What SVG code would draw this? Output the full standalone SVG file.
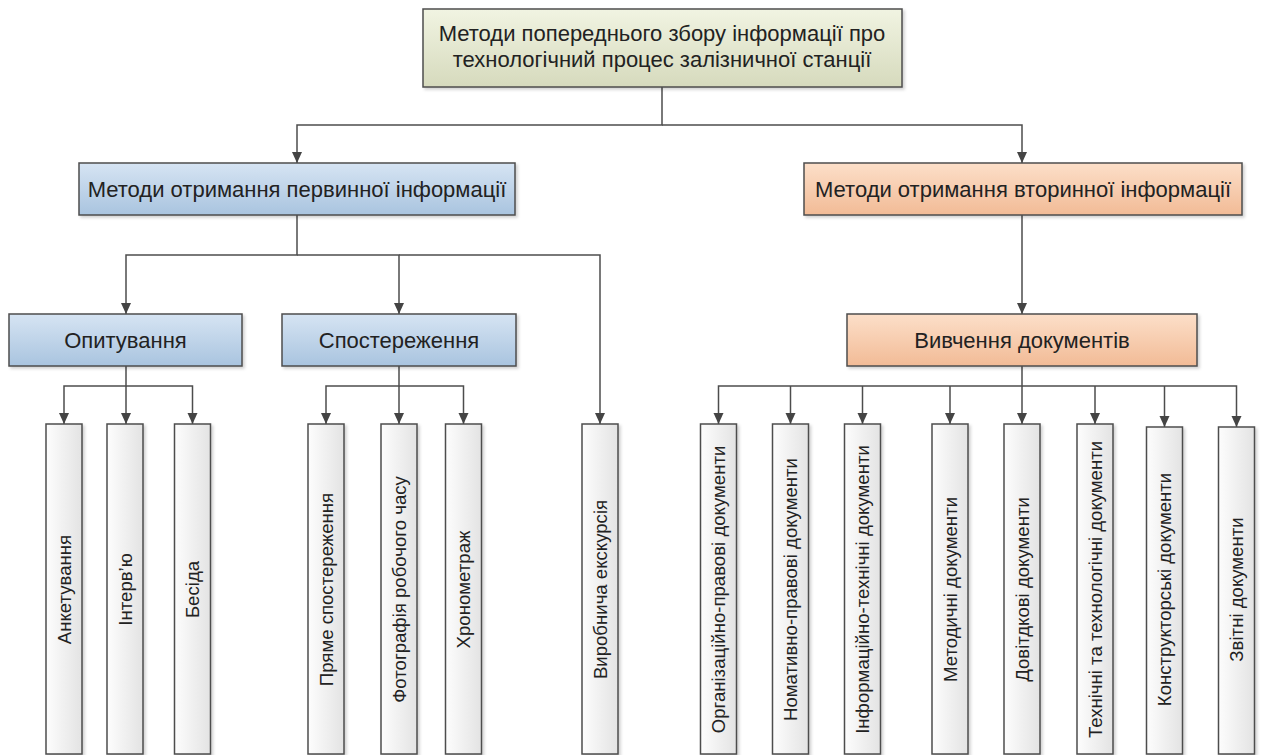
<svg xmlns="http://www.w3.org/2000/svg" width="1262" height="755" viewBox="0 0 1262 755">
<style>
.box{stroke:#4d4d4d;stroke-width:1.5;filter:url(#sh)}
.t{font-family:"Liberation Sans",Arial,sans-serif;font-size:22px;fill:#222;text-anchor:middle}
.v{font-family:"Liberation Sans",Arial,sans-serif;font-size:18.6px;fill:#222;text-anchor:middle}
.c{fill:none;stroke:#4d4d4d;stroke-width:1.5}
</style>
<defs>
<linearGradient id="gTop" x1="0" y1="0" x2="0" y2="1"><stop offset="0" stop-color="#f1f4e2"/><stop offset="1" stop-color="#d6dabd"/></linearGradient>
<linearGradient id="gBlue" x1="0" y1="0" x2="0" y2="1"><stop offset="0" stop-color="#d6e4f3"/><stop offset="1" stop-color="#a9c4df"/></linearGradient>
<linearGradient id="gOr" x1="0" y1="0" x2="0" y2="1"><stop offset="0" stop-color="#fcdfc9"/><stop offset="1" stop-color="#f2bb96"/></linearGradient>
<linearGradient id="gW" x1="0" y1="0" x2="1" y2="0"><stop offset="0" stop-color="#fdfdfd"/><stop offset="1" stop-color="#e3e3e3"/></linearGradient>
<filter id="sh" x="-10%" y="-10%" width="130%" height="130%"><feDropShadow dx="2" dy="2" stdDeviation="1.5" flood-color="#000" flood-opacity="0.18"/></filter>
<marker id="ar" markerUnits="userSpaceOnUse" markerWidth="11" markerHeight="11" refX="11" refY="5.5" orient="auto"><path d="M0,0.5 L11,5.5 L0,10.5 z" fill="#444"/></marker>
</defs>

<g id="connectors">
<path class="c" d="M662,87 V125 H297 V163" marker-end="url(#ar)"/>
<path class="c" d="M662,125 H1022 V163" marker-end="url(#ar)"/>
<path class="c" d="M297,215 V255 H126 V314" marker-end="url(#ar)"/>
<path class="c" d="M297,255 H399 V314" marker-end="url(#ar)"/>
<path class="c" d="M399,255 H600 V424" marker-end="url(#ar)"/>
<path class="c" d="M1022,215 V314" marker-end="url(#ar)"/>
<path class="c" d="M126,366 V386 H64 V424" marker-end="url(#ar)"/>
<path class="c" d="M126,386 V424" marker-end="url(#ar)"/>
<path class="c" d="M126,386 H192.5 V424" marker-end="url(#ar)"/>
<path class="c" d="M399,366 V386 H326 V424" marker-end="url(#ar)"/>
<path class="c" d="M399,386 V424" marker-end="url(#ar)"/>
<path class="c" d="M399,386 H463.5 V424" marker-end="url(#ar)"/>
<path class="c" d="M1022,366 V386 H718.5 V424" marker-end="url(#ar)"/>
<path class="c" d="M790.5,386 V424" marker-end="url(#ar)"/>
<path class="c" d="M862.5,386 V424" marker-end="url(#ar)"/>
<path class="c" d="M950,386 V424" marker-end="url(#ar)"/>
<path class="c" d="M1022,386 V424" marker-end="url(#ar)"/>
<path class="c" d="M1022,386 H1236.5 V427" marker-end="url(#ar)"/>
<path class="c" d="M1095,386 V424" marker-end="url(#ar)"/>
<path class="c" d="M1164.5,386 V427" marker-end="url(#ar)"/>
</g>

<g id="root">
<rect class="box" x="423" y="9" width="479" height="78" fill="url(#gTop)"/>
<text class="t" x="662" y="41">Методи попереднього збору інформації про</text>
<text class="t" x="662" y="67">технологічний процес залізничної станції</text>
</g>

<g id="primary">
<rect class="box" x="79" y="163" width="436" height="52" fill="url(#gBlue)"/>
<text class="t" x="297" y="197">Методи отримання первинної інформації</text>
</g>
<g id="secondary">
<rect class="box" x="804" y="163" width="438" height="52" fill="url(#gOr)"/>
<text class="t" x="1023" y="197">Методи отримання вторинної інформації</text>
</g>

<g id="survey">
<rect class="box" x="9" y="314" width="233" height="52" fill="url(#gBlue)"/>
<text class="t" x="125.5" y="348">Опитування</text>
</g>
<g id="observation">
<rect class="box" x="282" y="314" width="234" height="52" fill="url(#gBlue)"/>
<text class="t" x="399" y="348">Спостереження</text>
</g>
<g id="docs">
<rect class="box" x="847" y="314" width="350" height="52" fill="url(#gOr)"/>
<text class="t" x="1022" y="348">Вивчення документів</text>
</g>

<g id="n-anket"><rect class="box" x="46" y="424" width="36" height="330" fill="url(#gW)"/><text class="v" transform="translate(70.7,589.5) rotate(-90)">Анкетування</text></g>
<g id="n-interv"><rect class="box" x="107" y="424" width="36" height="330" fill="url(#gW)"/><text class="v" transform="translate(131.7,589.5) rotate(-90)">Інтерв’ю</text></g>
<g id="n-besida"><rect class="box" x="174.5" y="424" width="36" height="330" fill="url(#gW)"/><text class="v" transform="translate(199.2,589.5) rotate(-90)">Бесіда</text></g>
<g id="n-pryame"><rect class="box" x="308" y="424" width="36" height="330" fill="url(#gW)"/><text class="v" transform="translate(332.7,589.5) rotate(-90)">Пряме спостереження</text></g>
<g id="n-foto"><rect class="box" x="381" y="424" width="36" height="330" fill="url(#gW)"/><text class="v" transform="translate(405.7,589.5) rotate(-90)">Фотографія робочого часу</text></g>
<g id="n-khrono"><rect class="box" x="445.5" y="424" width="36" height="330" fill="url(#gW)"/><text class="v" transform="translate(470.2,589.5) rotate(-90)">Хронометраж</text></g>
<g id="n-vyrob"><rect class="box" x="582" y="424" width="36" height="330" fill="url(#gW)"/><text class="v" transform="translate(606.7,589.5) rotate(-90)">Виробнича екскурсія</text></g>
<g id="n-org"><rect class="box" x="700.5" y="424" width="36" height="330" fill="url(#gW)"/><text class="v" transform="translate(725.2,589.5) rotate(-90)">Організаційно-правові документи</text></g>
<g id="n-nom"><rect class="box" x="772.5" y="424" width="36" height="330" fill="url(#gW)"/><text class="v" transform="translate(797.2,589.5) rotate(-90)">Номативно-правові документи</text></g>
<g id="n-inf"><rect class="box" x="844.5" y="424" width="36" height="330" fill="url(#gW)"/><text class="v" transform="translate(869.2,589.5) rotate(-90)">Інформаційно-технічні документи</text></g>
<g id="n-met"><rect class="box" x="932" y="424" width="36" height="330" fill="url(#gW)"/><text class="v" transform="translate(956.7,589.5) rotate(-90)">Методичні документи</text></g>
<g id="n-dov"><rect class="box" x="1004" y="424" width="36" height="330" fill="url(#gW)"/><text class="v" transform="translate(1028.7,589.5) rotate(-90)">Довітдкові документи</text></g>
<g id="n-tekh"><rect class="box" x="1077" y="424" width="36" height="330" fill="url(#gW)"/><text class="v" transform="translate(1101.7,589.5) rotate(-90)">Технічні та технологічні документи</text></g>
<g id="n-konstr"><rect class="box" x="1146.5" y="427" width="36" height="327" fill="url(#gW)"/><text class="v" transform="translate(1171.2,589.5) rotate(-90)">Конструкторські документи</text></g>
<g id="n-zvit"><rect class="box" x="1218.5" y="427" width="36" height="327" fill="url(#gW)"/><text class="v" transform="translate(1243.2,589.5) rotate(-90)">Звітні документи</text></g>
</svg>
